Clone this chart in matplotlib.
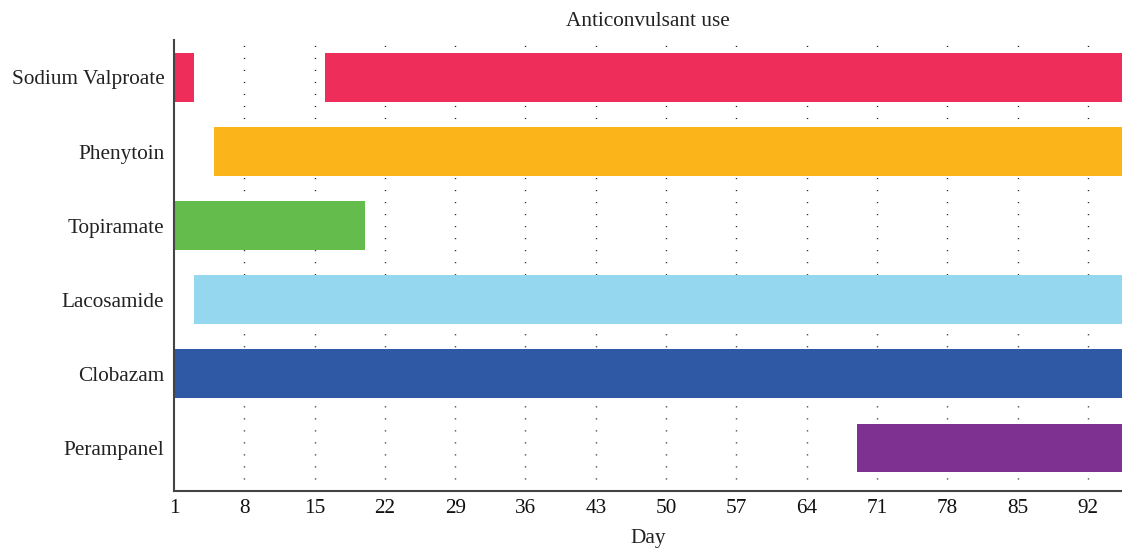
import matplotlib
matplotlib.use("Agg")
import matplotlib.pyplot as plt

drugs = ["Sodium Valproate", "Phenytoin", "Topiramate", "Lacosamide", "Clobazam", "Perampanel"]
# (start_day, end_day) segments for each drug
segments = [
    [(1, 3), (16, 95.5)],
    [(5, 95.5)],
    [(1, 20)],
    [(3, 95.5)],
    [(1, 95.5)],
    [(69, 95.5)],
]
colors = ["#EE2D5B", "#FBB51B", "#63BC4B", "#96D7F0", "#2F58A5", "#7F3191"]
xticks = [1, 8, 15, 22, 29, 36, 43, 50, 57, 64, 71, 78, 85, 92]

plt.rcParams['font.family'] = ['Liberation Serif', 'DejaVu Serif']
FS = 15.3

fig = plt.figure(figsize=(11.22, 5.5), dpi=100)
ax = fig.add_axes([174/1122, 1-491/550, 1-174/1122, (491-40)/550])

for x in xticks[1:]:
    ax.axvline(x, color="#222222", lw=1.0, linestyle=(0, (0.8, 7.85)), zorder=0)

for i, (segs, c) in enumerate(zip(segments, colors)):
    for s, e in segs:
        ax.barh(i, e - s, left=s, height=0.66, color=c, zorder=2)

ax.set_xlim(1, 95.4)
ax.set_ylim(5.58, -0.506)
ax.set_yticks(range(len(drugs)))
ax.set_yticklabels(drugs, fontsize=FS, color="#222222")
ax.set_xticks(xticks)
ax.set_xticklabels([str(t) for t in xticks], fontsize=FS, color="#111111")
ax.tick_params(axis='y', length=0, pad=7)
ax.tick_params(axis='x', length=0, pad=6)
for sp in ["top", "right"]:
    ax.spines[sp].set_visible(False)
for sp in ["left", "bottom"]:
    ax.spines[sp].set_color("#444444")
    ax.spines[sp].set_linewidth(1.5)

ax.set_title("Anticonvulsant use", fontsize=FS, color="#222222", pad=10)
ax.set_xlabel("Day", fontsize=FS, color="#222222", labelpad=8)

fig.savefig("out.png", dpi=100)
